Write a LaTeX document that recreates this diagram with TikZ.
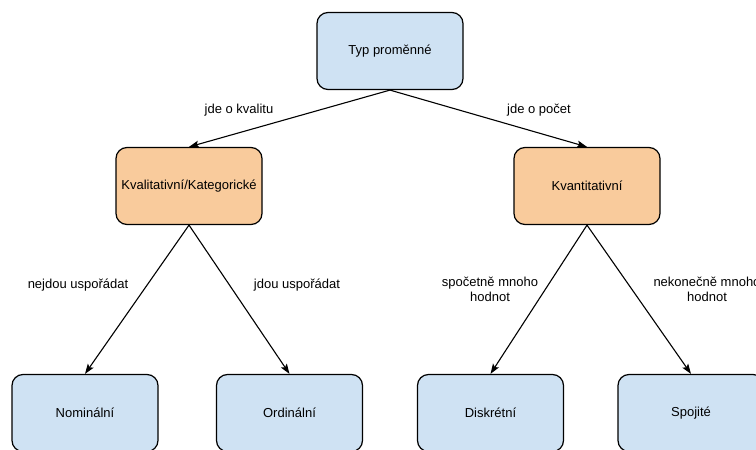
\documentclass[tikz,border=0pt]{standalone}
\usepackage{fontspec}
\setmainfont{Liberation Sans}
\usetikzlibrary{arrows.meta,positioning}

\definecolor{boxblue}{HTML}{CFE2F3}
\definecolor{boxorange}{HTML}{F9CB9C}

\begin{document}
\begin{tikzpicture}[x=1pt,y=-1pt,
    box/.style={draw=black,line width=1.2pt,rounded corners=11pt,
      minimum width=146pt,minimum height=77pt,inner sep=0pt,
      font=\fontsize{13}{15}\selectfont},
    bluebox/.style={box,fill=boxblue},
    orangebox/.style={box,fill=boxorange},
    lbl/.style={font=\fontsize{13}{15}\selectfont,align=center,inner sep=0pt},
    arr/.style={line width=1.1pt,-{Stealth[length=10pt,width=7pt,inset=2pt]}}]
    %% Fix the page
    \useasboundingbox (0,0) rectangle (756,450);
    \clip (0,0) rectangle (756,450);
    %% Boxes
    \node[bluebox] (typ) at (390,51) {Typ proměnné};
    \node[orangebox] (kval) at (189,186) {Kvalitativní/Kategorické};
    \node[orangebox] (kvan) at (587,186) {Kvantitativní};
    \node[bluebox] (nom) at (85,413) {Nominální};
    \node[bluebox] (ord) at (289.5,413) {Ordinální};
    \node[bluebox] (dis) at (490.5,413) {Diskrétní};
    \node[bluebox] (spo) at (691,413) {Spojité};
    %% Edge labels
    \node[lbl] (l_kval) at (239,110) {jde o kvalitu};
    \node[lbl] (l_kvan) at (539,110) {jde o počet};
    \node[lbl] (l_nom) at (78,285) {nejdou uspořádat};
    \node[lbl] (l_ord) at (297,285) {jdou uspořádat};
    \node[lbl] (l_dis) at (490,289) {spočetně mnoho\\hodnot};
    \node[lbl] (l_spo) at (707,289) {nekonečně mnoho\\hodnot};
    %% Connectors
    \draw[arr] (typ.south) -- (kval.north);
    \draw[arr] (typ.south) -- (kvan.north);
    \draw[arr] (kval.south) -- (nom.north);
    \draw[arr] (kval.south) -- (ord.north);
    \draw[arr] (kvan.south) -- (dis.north);
    \draw[arr] (kvan.south) -- (spo.north);
\end{tikzpicture}
\end{document}
